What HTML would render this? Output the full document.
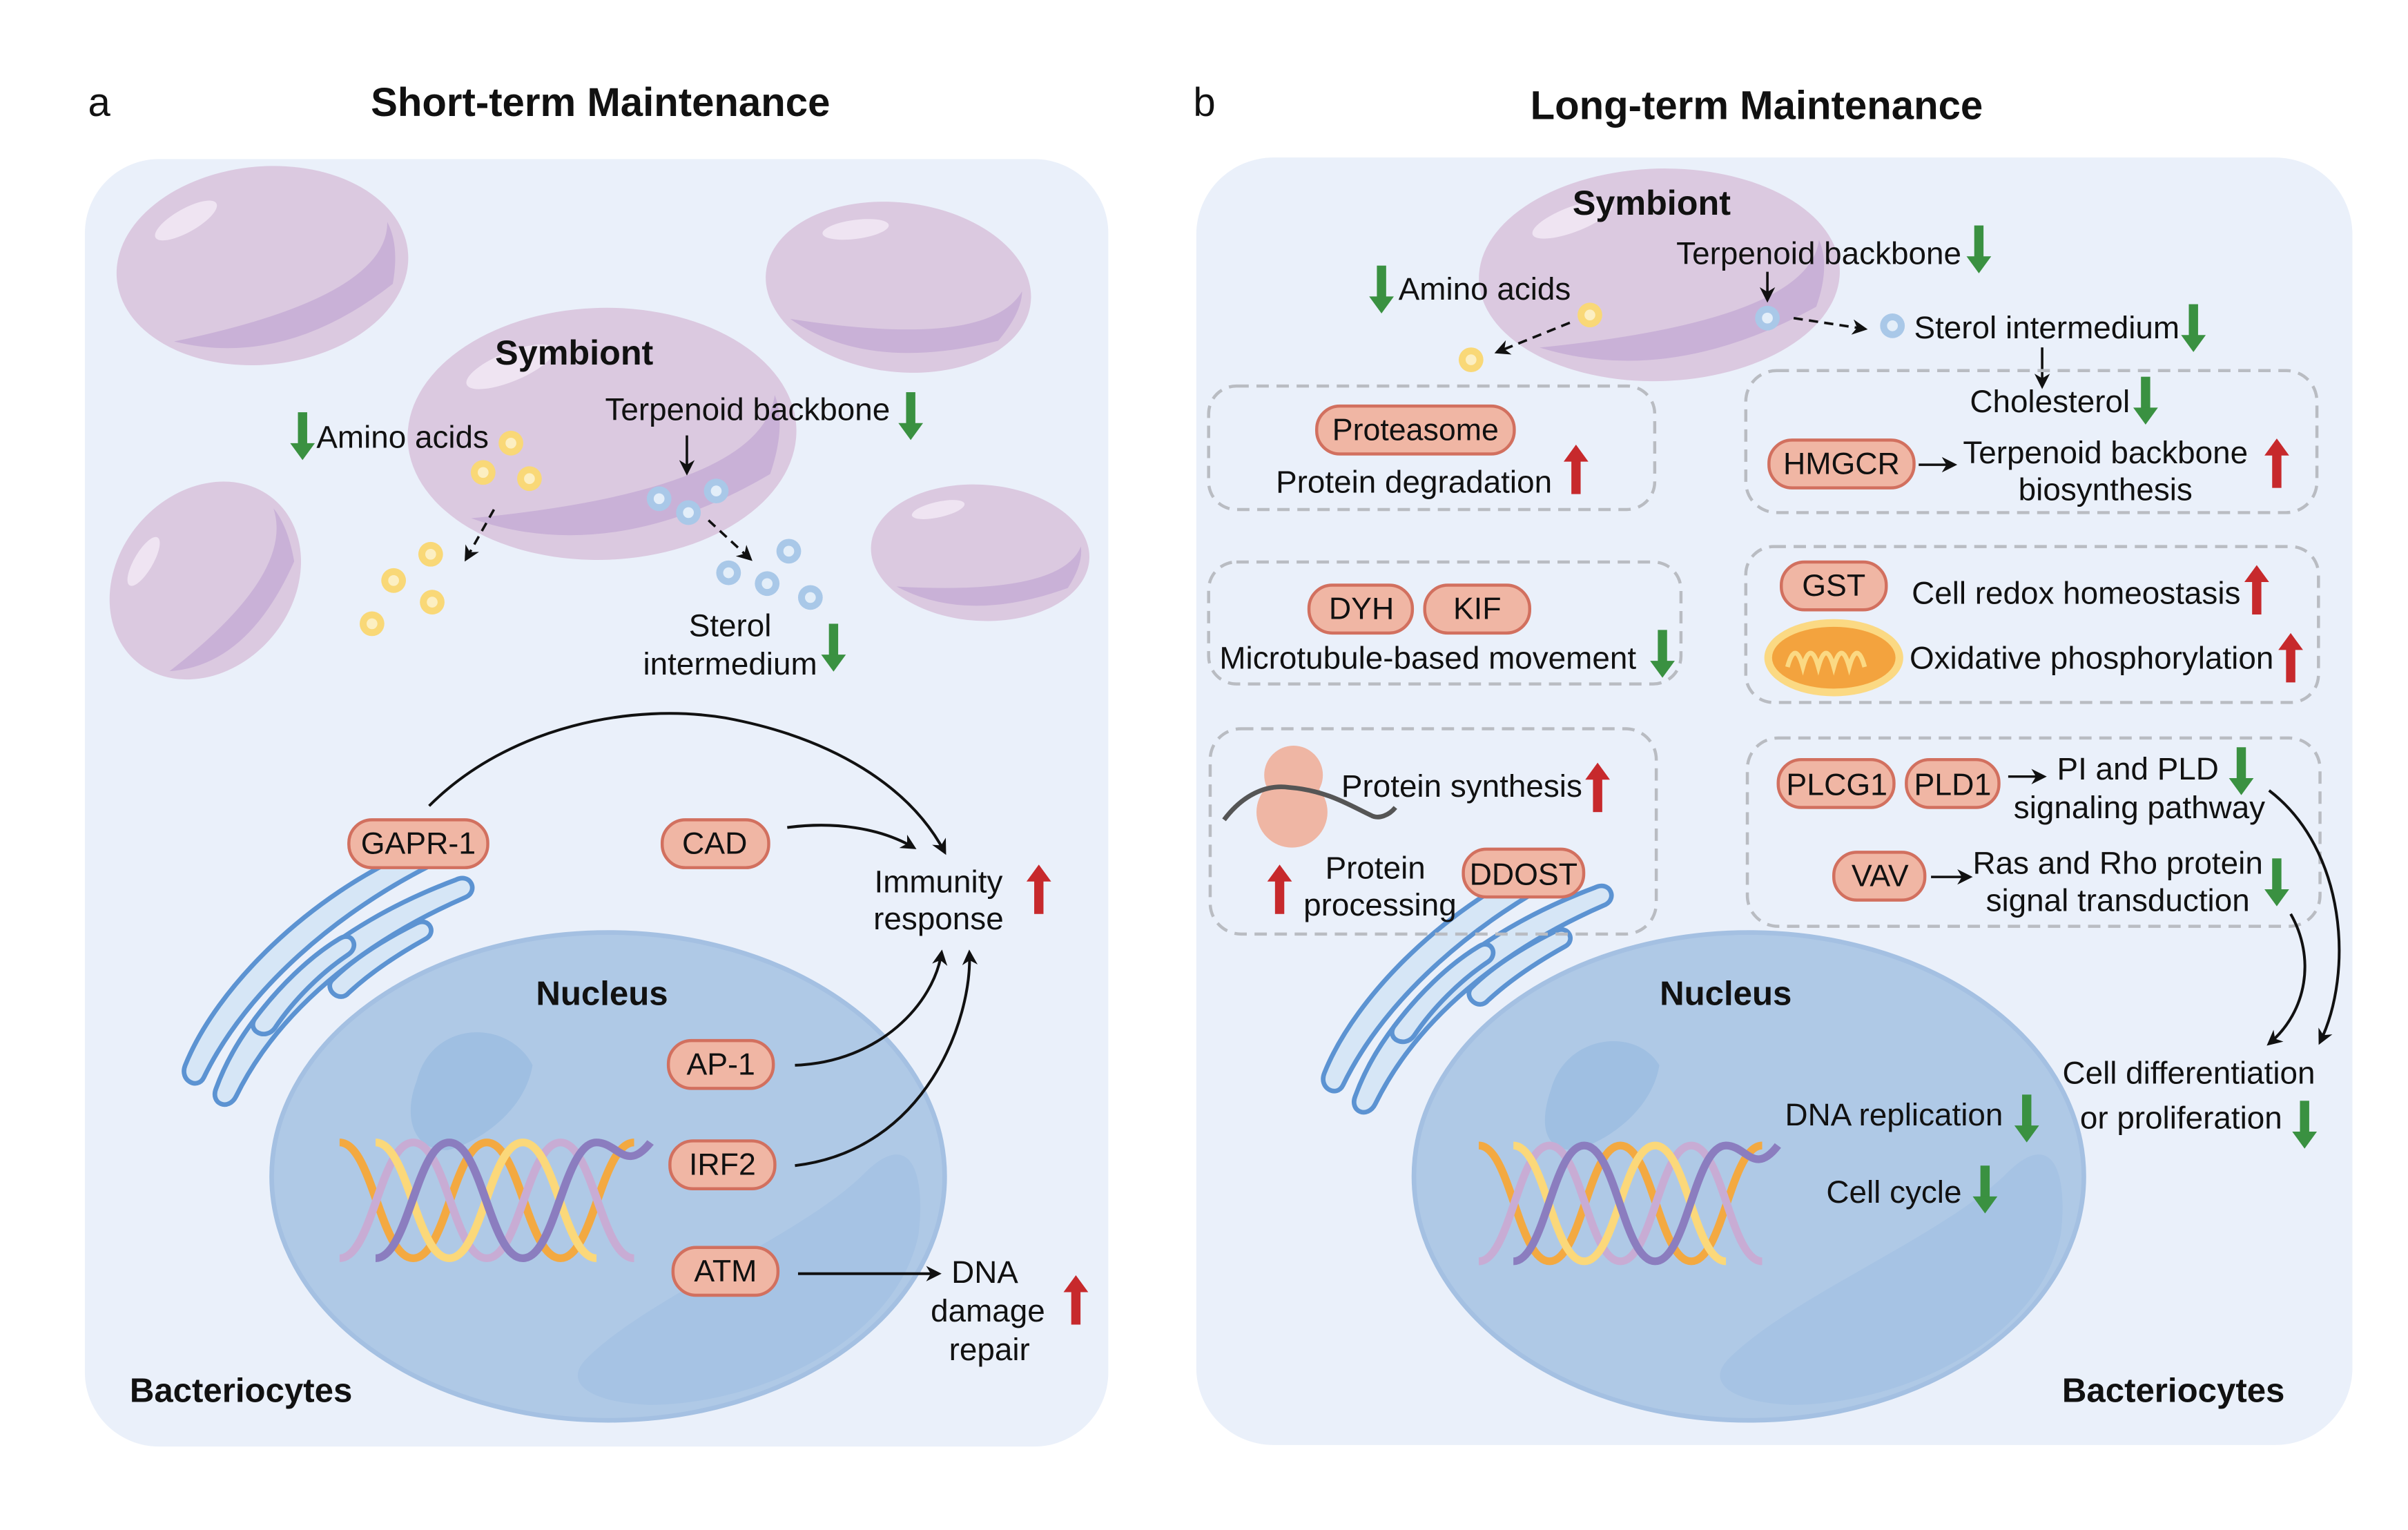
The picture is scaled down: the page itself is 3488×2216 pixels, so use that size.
<!DOCTYPE html>
<html><head><meta charset="utf-8"><style>
html,body{margin:0;padding:0;background:#fff;}
svg{display:block;}
text{font-family:"Liberation Sans",Arial,sans-serif;fill:#111;}
.t{font-size:20.5px;}
.b{font-weight:bold;}
.p{font-size:20.5px;text-anchor:middle;}
.q{font-size:20px;text-anchor:middle;}
</style></head><body>
<svg width="3488" height="2216" viewBox="0 0 1560 991" xmlns="http://www.w3.org/2000/svg">
<defs>
<marker id="ah" markerWidth="10" markerHeight="10" refX="8" refY="5" orient="auto" markerUnits="userSpaceOnUse"><path d="M0,0 L10,5 L0,10 L3,5 z" fill="#111"/></marker>
<g id="gd"><rect x="-3" y="0" width="6" height="22" fill="#3a9141"/><path d="M-8,20 L8,20 L0,31 z" fill="#3a9141"/></g>
<g id="ru"><rect x="-3" y="9" width="6" height="23" fill="#c7292c"/><path d="M-8,11 L8,11 L0,0 z" fill="#c7292c"/></g>
<g id="cell"><ellipse cx="0" cy="0" rx="100" ry="80" fill="#dbc9e0"/><path d="M-70,50 Q0,85 85,30 Q95,0 90,-20 Q80,40 -70,50z" fill="#c9b1d7"/><ellipse cx="-45" cy="-45" rx="25" ry="9" fill="#efe4f2" transform="rotate(-25 -45 -45)"/></g>
<g id="yd"><circle r="8" fill="#f9d877"/><circle r="3.5" fill="#fcefc2"/></g>
<g id="bd"><circle r="8" fill="#a9c8e8"/><circle r="3.5" fill="#e3eef9"/></g>
<g id="helix" fill="none" stroke-width="5">
<path d="M0,0 C20,0 25,75 45,75 C65,75 70,0 90,0 C110,0 115,75 135,75 C155,75 160,0 180,0" stroke="#f3a941"/>
<path d="M0,75 C20,75 25,0 45,0 C65,0 70,75 90,75 C110,75 115,0 135,0 C155,0 160,75 180,75" stroke="#c8acd4"/>
<path d="M22,0 C42,0 47,75 67,75 C87,75 92,0 112,0 C132,0 137,75 157,75" stroke="#fbd87a"/>
<path d="M22,75 C42,75 47,0 67,0 C87,0 92,75 112,75 C132,75 137,0 157,0 C170,0 175,20 190,0" stroke="#8b7dbf"/>
</g>
<g id="er" fill="#d6e6f6" stroke="#5c93d2" stroke-width="3" stroke-linejoin="round">
<path d="M0,150 C20,100 80,40 150,10 C160,5 168,15 160,20 C100,50 40,100 12,158 C8,166 -4,160 0,150z"/>
<path d="M20,165 C40,110 95,60 175,30 C185,25 190,37 182,41 C115,70 60,115 33,170 C28,180 16,175 20,165z"/>
<path d="M45,120 C60,100 80,80 100,68 C108,63 113,73 106,78 C88,90 70,108 58,126 C52,134 40,128 45,120z"/>
<path d="M95,95 C110,80 130,68 150,58 C158,54 163,64 156,68 C138,78 120,90 106,103 C100,110 90,101 95,95z"/>
</g>
</defs>

<text x="57" y="75" style="font-size:26px">a</text>
<text x="389" y="75" class="b" style="font-size:26px" text-anchor="middle">Short-term Maintenance</text>
<text x="773" y="75" style="font-size:26px">b</text>
<text x="1138" y="77" class="b" style="font-size:26px" text-anchor="middle">Long-term Maintenance</text>

<!-- panel a -->
<rect x="55" y="103" width="663" height="834" rx="48" fill="#eaf0fa"/>
<use href="#cell" transform="translate(170,172) scale(0.95,0.8) rotate(-10)"/>
<use href="#cell" transform="translate(582,186) scale(0.87,0.68) rotate(15)"/>
<use href="#cell" transform="translate(133,376) scale(0.65,0.75) rotate(-30)"/>
<use href="#cell" transform="translate(635,358) scale(0.71,0.55) rotate(8)"/>
<use href="#cell" transform="translate(390,281) scale(1.26,1.02) rotate(-3)"/>
<text x="372" y="236" class="b" style="font-size:22.5px" text-anchor="middle">Symbiont</text>
<use href="#gd" x="196" y="267"/>
<text x="205" y="290" class="t">Amino acids</text>
<text x="392" y="272" class="t">Terpenoid backbone</text>
<use href="#gd" x="590" y="254"/>
<line x1="445" y1="282" x2="445" y2="306" stroke="#111" stroke-width="1.6" marker-end="url(#ah)"/>
<use href="#yd" x="331" y="287"/><use href="#yd" x="313" y="306"/><use href="#yd" x="343" y="310"/>
<use href="#bd" x="427" y="323"/><use href="#bd" x="464" y="318"/><use href="#bd" x="446" y="332"/>
<line x1="320" y1="330" x2="302" y2="362" stroke="#111" stroke-width="1.6" stroke-dasharray="6,4" marker-end="url(#ah)"/>
<line x1="459" y1="337" x2="486" y2="362" stroke="#111" stroke-width="1.6" stroke-dasharray="6,4" marker-end="url(#ah)"/>
<use href="#yd" x="279" y="359"/><use href="#yd" x="255" y="376"/><use href="#yd" x="280" y="390"/><use href="#yd" x="241" y="404"/>
<use href="#bd" x="511" y="357"/><use href="#bd" x="472" y="371"/><use href="#bd" x="497" y="378"/><use href="#bd" x="525" y="387"/>
<text x="473" y="412" class="p">Sterol</text>
<text x="473" y="437" class="p">intermedium</text>
<use href="#gd" x="540" y="404"/>

<ellipse cx="394" cy="762" rx="218" ry="158" fill="#afc9e6" stroke="#a4c0e2" stroke-width="3"/>
<path d="M270,700 C280,660 330,660 345,690 C340,720 310,740 290,745 C265,745 262,720 270,700z" fill="#9fbfe2"/>
<path d="M380,880 C420,840 520,800 560,760 C590,730 600,760 595,800 C580,870 490,910 420,910 C380,908 365,895 380,880z" fill="#a6c3e4"/>
<use href="#helix" transform="translate(220,740) scale(1.06,1.0)"/>
<use href="#er" transform="translate(120,540)"/>
<text x="390" y="651" class="b" style="font-size:22px" text-anchor="middle">Nucleus</text>

<g fill="#f0b6a4" stroke="#d2705f" stroke-width="2">
<rect x="226" y="531" width="90" height="31" rx="15"/>
<rect x="429" y="531" width="69" height="31" rx="15"/>
<rect x="433" y="674" width="68" height="31" rx="15"/>
<rect x="434" y="739" width="68" height="31" rx="15"/>
<rect x="436" y="808" width="68" height="31" rx="15"/>
</g>
<text x="271" y="553" class="q">GAPR-1</text>
<text x="463" y="553" class="q">CAD</text>
<text x="467" y="696" class="q">AP-1</text>
<text x="468" y="761" class="q">IRF2</text>
<text x="470" y="830" class="q">ATM</text>
<g fill="none" stroke="#111" stroke-width="1.8" marker-end="url(#ah)">
<path d="M278,522 C330,470 410,455 470,465 C540,478 590,510 612,552"/>
<path d="M510,536 C540,532 570,536 592,549"/>
<path d="M515,690 C570,688 605,650 610,617"/>
<path d="M515,755 C600,745 630,660 628,617"/>
<path d="M517,825 L608,825"/>
</g>
<text x="608" y="578" class="p">Immunity</text>
<text x="608" y="602" class="p">response</text>
<use href="#ru" x="673" y="560"/>
<text x="638" y="831" class="p">DNA</text>
<text x="640" y="856" class="p">damage</text>
<text x="641" y="881" class="p">repair</text>
<use href="#ru" x="697" y="826"/>
<text x="84" y="908" class="b" style="font-size:22px">Bacteriocytes</text>

<!-- panel b -->
<rect x="775" y="102" width="749" height="834" rx="50" fill="#eaf0fa"/>
<use href="#cell" transform="translate(1075,178) scale(1.17,0.86) rotate(-4)"/>
<text x="1070" y="139" class="b" style="font-size:22.5px" text-anchor="middle">Symbiont</text>
<text x="1086" y="171" class="t">Terpenoid backbone</text>
<use href="#gd" x="1282" y="146"/>
<use href="#gd" x="895" y="172"/>
<text x="906" y="194" class="t">Amino acids</text>
<line x1="1145" y1="176" x2="1145" y2="194" stroke="#111" stroke-width="1.6" marker-end="url(#ah)"/>
<use href="#yd" x="1030" y="204"/><use href="#yd" x="953" y="233"/>
<use href="#bd" x="1145" y="206"/><use href="#bd" x="1226" y="211"/>
<line x1="1017" y1="209" x2="970" y2="228" stroke="#111" stroke-width="1.6" stroke-dasharray="6,4" marker-end="url(#ah)"/>
<line x1="1162" y1="206" x2="1208" y2="213" stroke="#111" stroke-width="1.6" stroke-dasharray="6,4" marker-end="url(#ah)"/>
<text x="1240" y="219" class="t">Sterol intermedium</text>
<use href="#gd" x="1421" y="197"/>
<line x1="1323" y1="225" x2="1323" y2="250" stroke="#111" stroke-width="1.6" marker-end="url(#ah)"/>

<ellipse cx="1133" cy="762" rx="217" ry="158" fill="#afc9e6" stroke="#a4c0e2" stroke-width="3"/>
<path d="M1005,705 C1015,670 1060,665 1075,690 C1070,720 1040,740 1020,745 C998,745 998,725 1005,705z" fill="#9fbfe2"/>
<path d="M1120,880 C1160,840 1260,800 1300,760 C1330,730 1340,760 1335,800 C1320,870 1230,910 1160,910 C1120,908 1105,895 1120,880z" fill="#a6c3e4"/>
<use href="#helix" transform="translate(958,742) scale(1.02,1.0)"/>
<use href="#er" transform="translate(858,545)"/>
<text x="1118" y="651" class="b" style="font-size:22px" text-anchor="middle">Nucleus</text>

<g fill="none" stroke="#b9bcc2" stroke-width="2" stroke-dasharray="8,5">
<rect x="783" y="250" width="289" height="80" rx="18"/>
<rect x="1131" y="240" width="370" height="92" rx="20"/>
<rect x="783" y="364" width="306" height="79" rx="18"/>
<rect x="1131" y="354" width="371" height="101" rx="18"/>
<rect x="784" y="472" width="289" height="133" rx="20"/>
<rect x="1132" y="478" width="371" height="122" rx="20"/>
</g>

<g fill="#f0b6a4" stroke="#d2705f" stroke-width="2">
<rect x="853" y="263" width="128" height="31" rx="15"/>
<rect x="1146" y="285" width="94" height="31" rx="15"/>
<rect x="848" y="379" width="67" height="31" rx="15"/>
<rect x="923" y="379" width="68" height="31" rx="15"/>
<rect x="1154" y="364" width="68" height="31" rx="15"/>
<rect x="948" y="550" width="78" height="31" rx="15"/>
<rect x="1152" y="492" width="75" height="31" rx="15"/>
<rect x="1235" y="492" width="60" height="31" rx="15"/>
<rect x="1188" y="552" width="59" height="31" rx="15"/>
</g>
<text x="917" y="285" class="q">Proteasome</text>
<text x="916" y="319" class="p">Protein degradation</text>
<use href="#ru" x="1021" y="288"/>
<text x="1328" y="267" class="p">Cholesterol</text>
<use href="#gd" x="1390" y="244"/>
<text x="1193" y="307" class="q">HMGCR</text>
<line x1="1243" y1="301" x2="1266" y2="301" stroke="#111" stroke-width="1.6" marker-end="url(#ah)"/>
<text x="1364" y="300" class="p">Terpenoid backbone</text>
<text x="1364" y="324" class="p">biosynthesis</text>
<use href="#ru" x="1475" y="284"/>
<text x="882" y="401" class="q">DYH</text>
<text x="957" y="401" class="q">KIF</text>
<text x="925" y="433" class="p">Microtubule-based movement</text>
<use href="#gd" x="1077" y="408"/>
<text x="1188" y="386" class="q">GST</text>
<text x="1345" y="391" class="p">Cell redox homeostasis</text>
<use href="#ru" x="1462" y="366"/>
<ellipse cx="1188" cy="426" rx="45" ry="25" fill="#fbd983"/>
<ellipse cx="1188" cy="426" rx="40" ry="20" fill="#f3a33e"/>
<path d="M1158,432 q5,-18 10,0 q5,-18 10,0 q5,-18 10,0 q5,-18 10,0 q5,-18 10,0" fill="none" stroke="#fbd983" stroke-width="3"/>
<text x="1355" y="433" class="p">Oxidative phosphorylation</text>
<use href="#ru" x="1484" y="410"/>
<circle cx="838" cy="502" r="19" fill="#efb6a4"/>
<circle cx="837" cy="526" r="23" fill="#efb6a4"/>
<path d="M793,531 C805,515 820,508 835,510 C860,512 875,522 888,528 C893,531 900,528 904,523" fill="none" stroke="#555" stroke-width="3"/>
<text x="947" y="516" class="p">Protein synthesis</text>
<use href="#ru" x="1035" y="494"/>
<use href="#ru" x="829" y="560"/>
<text x="891" y="569" class="p">Protein</text>
<text x="894" y="593" class="p">processing</text>
<text x="987" y="573" class="q">DDOST</text>
<text x="1190" y="515" class="q">PLCG1</text>
<text x="1265" y="515" class="q">PLD1</text>
<line x1="1301" y1="503" x2="1324" y2="503" stroke="#111" stroke-width="1.6" marker-end="url(#ah)"/>
<text x="1385" y="505" class="p">PI and PLD</text>
<text x="1386" y="530" class="p">signaling pathway</text>
<use href="#gd" x="1452" y="484"/>
<text x="1218" y="574" class="q">VAV</text>
<line x1="1251" y1="568" x2="1276" y2="568" stroke="#111" stroke-width="1.6" marker-end="url(#ah)"/>
<text x="1372" y="566" class="p">Ras and Rho protein</text>
<text x="1372" y="590" class="p">signal transduction</text>
<use href="#gd" x="1475" y="556"/>
<g fill="none" stroke="#111" stroke-width="1.8" marker-end="url(#ah)">
<path d="M1470,512 C1520,550 1525,630 1503,675"/>
<path d="M1484,592 C1500,620 1495,655 1470,676"/>
</g>
<text x="1418" y="702" class="p">Cell differentiation</text>
<text x="1413" y="731" class="p">or proliferation</text>
<use href="#gd" x="1493" y="713"/>
<text x="1227" y="729" class="p">DNA replication</text>
<use href="#gd" x="1313" y="709"/>
<text x="1227" y="779" class="p">Cell cycle</text>
<use href="#gd" x="1286" y="755"/>
<text x="1408" y="908" class="b" style="font-size:22px" text-anchor="middle">Bacteriocytes</text>
</svg>
</body></html>
